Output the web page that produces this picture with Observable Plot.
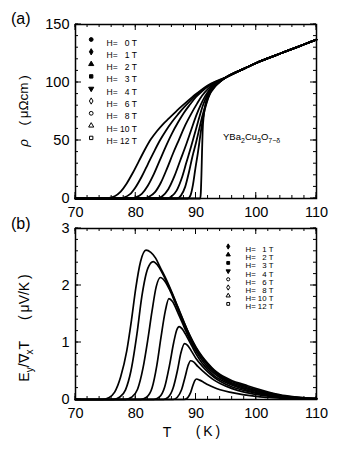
<!DOCTYPE html>
<html><head><meta charset="utf-8">
<script src="https://cdn.jsdelivr.net/npm/d3@7"></script>
<script src="https://cdn.jsdelivr.net/npm/@observablehq/plot@0.6"></script>
<style>
body{margin:0;background:#fff;}
#chart{position:relative;width:350px;height:450px;overflow:hidden;}
#chart svg{display:block;}
#overlay{position:absolute;left:0;top:0;pointer-events:none;}
</style></head><body><div id="chart"></div>
<script>
const FONT = '"Liberation Sans", Arial, Helvetica, sans-serif';

// ---- ticks ----
const xTickLabels = [70, 80, 90, 100, 110];
const xMinorTicks = d3.range(70, 110.1, 2);
const rhoTickLabels = [0, 50, 100, 150];
const rhoMinorTicks = d3.range(0, 150.1, 10);
const nernstTickLabels = [0, 1, 2, 3];
const nernstMinorTicks = d3.range(0, 3.001, 0.2);

// ---- categories (magnetic field, T) ----
const fieldsRho = [0, 1, 2, 3, 4, 6, 8, 10, 12];
const fieldsNernst = [1, 2, 3, 4, 6, 8, 10, 12];

// ---- panel (a): resistivity rho (µΩcm) vs T (K) ----
const rho0  = [[70,0],[90.7,0],[90.8,5],[90.9,20],[91.0,40],[91.1,58],[91.3,72],[91.6,82],[92,88.5],[92.5,93],[93.2,97],[94,100.6]];
const rho1  = [[70,0],[88.6,0],[89.1,3],[89.5,12],[89.9,26],[90.3,39],[90.6,50],[90.9,61],[91.3,73],[91.8,83],[92.3,90],[92.8,94],[93.4,98],[94,100.8]];
const rho2  = [[70,0],[86.8,0],[87.5,2.5],[88.2,10],[88.8,22],[89.4,36],[90,48],[90.5,59],[91,70],[91.5,79],[92,87],[92.5,92.5],[93.2,97.5],[94,101]];
const rho3  = [[70,0],[85.2,0],[86,2],[86.8,7],[87.6,17],[88.4,31],[89.2,45],[89.9,58],[90.6,71],[91.2,81],[91.8,88.5],[92.4,93.5],[93,97.5],[94,101.2]];
const rho4  = [[70,0],[83.4,0],[84.4,2],[85.4,8],[86.4,19],[87.4,33],[88.4,47],[89.2,59],[90,71],[90.8,81],[91.5,88],[92.2,93.5],[93,98.5],[94,101.4]];
const rho6  = [[70,0],[81.2,0],[82.2,1.5],[83.2,5.5],[84.2,14],[85.2,26],[86.2,39],[87.2,51],[88.2,63],[89.2,73],[90.2,82],[91,88.5],[92,94.5],[93,99],[94,101.6]];
const rho8  = [[70,0],[79,0],[80,1],[81,4],[82,11],[83,21],[84,33],[85,45],[86,56],[87,65.5],[88,74],[89,81],[90,87.5],[91,92.5],[92,96.5],[93,99.5],[94,101.8]];
const rho10 = [[70,0],[77,0],[78,0.8],[79,3.5],[80,10],[81,19],[82,29.5],[83,40],[84,50],[85,58.5],[86,66],[87,72.5],[88,78.5],[89,84],[90,89],[91,93.5],[92,97],[93,100],[94,102]];
const rho12 = [[70,0],[74.5,0],[75.5,0.5],[76.5,2],[77.5,6],[78.5,13],[79.5,22],[80.5,32],[81.5,42],[82.5,51],[83.5,58],[84.5,64],[85.5,69],[86.5,74],[87.5,79],[88.5,83.5],[89.5,88],[90.5,92],[91.5,96],[92.5,99],[94,102.5]];
const rhoNormal = [[95,104.5],[96,107.2],[98,112],[100,116.8],[102,121],[104,125],[106,129],[108,133],[110,137]];

// ---- panel (b): Nernst signal Ey/∇xT (µV/K) vs T (K) ----
const nernst1  = [[70,0],[88,0],[88.6,0.03],[89.1,0.12],[89.5,0.25],[89.8,0.33],[90.1,0.36],[90.6,0.34],[91.3,0.3],[92,0.26],[93,0.21],[94,0.17],[96,0.12],[98,0.08],[100,0.055],[102,0.035],[104,0.025],[106,0.015],[108,0.01],[110,0.005]];
const nernst2  = [[70,0],[86.2,0],[86.9,0.04],[87.6,0.17],[88.2,0.4],[88.7,0.6],[89.1,0.68],[89.6,0.66],[90.3,0.58],[91,0.51],[92,0.42],[93,0.34],[94,0.28],[96,0.19],[98,0.13],[100,0.09],[102,0.06],[104,0.04],[106,0.025],[108,0.015],[110,0.01]];
const nernst3  = [[70,0],[84.6,0],[85.4,0.04],[86.2,0.2],[86.9,0.5],[87.5,0.82],[88.1,0.98],[88.6,0.95],[89.3,0.84],[90,0.72],[91,0.59],[92,0.48],[93,0.39],[94,0.32],[96,0.22],[98,0.16],[100,0.11],[102,0.07],[104,0.045],[106,0.03],[108,0.018],[110,0.01]];
const nernst4  = [[70,0],[83,0],[83.9,0.04],[84.8,0.22],[85.6,0.6],[86.3,1.0],[86.8,1.22],[87.2,1.28],[87.7,1.24],[88.5,1.1],[89.3,0.94],[90,0.8],[91,0.64],[92,0.52],[93,0.42],[94,0.35],[96,0.25],[98,0.18],[100,0.12],[102,0.08],[104,0.05],[106,0.03],[108,0.02],[110,0.01]];
const nernst6  = [[70,0],[80.8,0],[81.8,0.04],[82.7,0.2],[83.5,0.6],[84.2,1.1],[84.9,1.55],[85.5,1.77],[86.1,1.72],[87,1.52],[88,1.28],[89,1.04],[90,0.85],[91,0.69],[92,0.56],[93,0.46],[94,0.38],[96,0.27],[98,0.2],[100,0.14],[102,0.09],[104,0.058],[106,0.035],[108,0.022],[110,0.014]];
const nernst8  = [[70,0],[78.3,0],[79.3,0.04],[80.3,0.18],[81.2,0.55],[82,1.05],[82.7,1.55],[83.4,1.98],[84.1,2.14],[84.8,2.08],[85.6,1.93],[86.5,1.71],[87.5,1.45],[88.5,1.2],[89.5,0.98],[90.5,0.8],[91.5,0.66],[92.5,0.54],[94,0.4],[96,0.29],[98,0.22],[100,0.155],[102,0.1],[104,0.065],[106,0.04],[108,0.025],[110,0.015]];
const nernst10 = [[70,0],[76.3,0],[77.3,0.04],[78.3,0.17],[79.2,0.5],[80.2,1.15],[81,1.8],[82,2.3],[82.9,2.42],[83.6,2.36],[84.5,2.2],[85.5,1.98],[86.5,1.74],[87.5,1.48],[88.5,1.23],[89.5,1.0],[90.5,0.82],[91.5,0.68],[92.5,0.56],[94,0.42],[96,0.31],[98,0.24],[100,0.17],[102,0.115],[104,0.07],[106,0.045],[108,0.028],[110,0.018]];
const nernst12 = [[70,0],[74.5,0],[75.5,0.03],[76.5,0.13],[77.5,0.4],[78.5,0.85],[79.3,1.4],[80,1.95],[80.8,2.42],[81.7,2.62],[82.5,2.58],[83.3,2.48],[84,2.33],[85,2.12],[86,1.88],[87,1.62],[88,1.36],[89,1.12],[90,0.92],[91,0.76],[92,0.63],[93,0.52],[94,0.44],[95,0.38],[96,0.33],[98,0.26],[100,0.19],[102,0.13],[104,0.08],[106,0.05],[108,0.03],[110,0.02]];

// ---- build tables ----
const rhoByField = {0:rho0,1:rho1,2:rho2,3:rho3,4:rho4,6:rho6,8:rho8,10:rho10,12:rho12};
const nernstByField = {1:nernst1,2:nernst2,3:nernst3,4:nernst4,6:nernst6,8:nernst8,10:nernst10,12:nernst12};
const rhoRows = fieldsRho.flatMap(H => [...rhoByField[H], ...rhoNormal].map(([T, v]) => ({H, T, v})));
const nernstRows = fieldsNernst.flatMap(H => nernstByField[H].map(([T, v]) => ({H, T, v})));

// legend marker styles: [symbol, filled, rotate]
const styleA = {0:["circle",1,0],1:["diamond",1,0],2:["triangle",1,0],3:["square",1,0],4:["triangle",1,180],6:["diamond",0,0],8:["circle",0,0],10:["triangle",0,0],12:["square",0,0]};
const styleB = {1:["diamond",1,0],2:["triangle",1,0],3:["square",1,0],4:["triangle",1,180],6:["circle",0,0],8:["diamond",0,0],10:["triangle",0,0],12:["square",0,0]};

function tickLabels(yMajor) {
  return [
    Plot.axisX({anchor: "bottom", ticks: xTickLabels, tickSize: 0, tickPadding: 8, label: null, fontSize: 14.5, fill: "black", tickFormat: d => String(d)}),
    Plot.axisY({anchor: "left", ticks: yMajor, tickSize: 0, tickPadding: 6, label: null, fontSize: 14.5, fill: "black", tickFormat: d => String(d)})
  ];
}

function legendMarks(fields, styles, o) {
  return fields.flatMap((H, i) => {
    const [symbol, filled, rotate] = styles[H];
    const dy = o.dy + i * o.step;
    return [
      Plot.dot([H], {frameAnchor: "top-left", dx: o.dx, dy, symbol, r: o.r, rotate,
        fill: filled ? "black" : "white", stroke: "black", strokeWidth: 1}),
      Plot.text([H], {frameAnchor: "top-left", dx: o.textDx, dy,
        text: d => "H=\u00a0" + (d < 10 ? "\u2007" : "") + d + "\u00a0T",
        textAnchor: "start", fontSize: o.fontSize, fill: "black"})
    ];
  });
}

const common = {width: 350, marginLeft: 75, marginRight: 34, x: {domain: [70, 110]},
  style: {fontFamily: FONT, color: "black", background: "white", overflow: "visible"}};

const topPlot = Plot.plot({
  ...common, height: 220, marginTop: 24, marginBottom: 22,
  y: {domain: [0, 150]},
  marks: [
    Plot.line(rhoRows, {x: "T", y: "v", z: "H", stroke: "black", strokeWidth: 1.8, curve: "monotone-x"}),
    Plot.frame({stroke: "black", strokeWidth: 1.5}),
    ...tickLabels(rhoTickLabels),
    ...legendMarks(fieldsRho, styleA, {dx: 15.7, dy: 15, step: 12.3, textDx: 31, fontSize: 8.5, r: 1.9})
  ]
});

const bottomPlot = Plot.plot({
  ...common, height: 230, marginTop: 8, marginBottom: 51,
  y: {domain: [0, 3]},
  marks: [
    Plot.line(nernstRows, {x: "T", y: "v", z: "H", stroke: "black", strokeWidth: 1.7, curve: "monotone-x"}),
    Plot.frame({stroke: "black", strokeWidth: 1.5}),
    ...tickLabels(nernstTickLabels),
    ...legendMarks(fieldsNernst, styleB, {dx: 152.7, dy: 18, step: 8.2, textDx: 170, fontSize: 7.8, r: 1.6})
  ]
});

const chart = document.getElementById("chart");
chart.append(topPlot, bottomPlot);

// ---- overlay: inward frame ticks (from Plot's scales) and annotation texts ----
const ov = d3.select(chart).append("svg").attr("id", "overlay")
  .attr("width", 350).attr("height", 450)
  .style("font-family", FONT).attr("fill", "black");

function drawTicks(plot, yOff, yMajor, yMinor) {
  const sx = plot.scale("x"), sy = plot.scale("y");
  const [xl, xr] = sx.range, [yb, yt] = sy.range;
  const g = ov.append("g").attr("transform", `translate(0,${yOff})`)
    .attr("stroke", "black").attr("stroke-width", 1);
  const seg = (x1, y1, x2, y2) => g.append("line").attr("x1", x1).attr("y1", y1).attr("x2", x2).attr("y2", y2);
  const M = 6, m = 3;
  xMinorTicks.forEach(v => { const x = sx.apply(v); seg(x, yb, x, yb - m); seg(x, yt, x, yt + m); });
  xTickLabels.forEach(v => { const x = sx.apply(v); seg(x, yb, x, yb - M); seg(x, yt, x, yt + M); });
  yMinor.forEach(v => { const y = sy.apply(v); seg(xl, y, xl + m, y); seg(xr, y, xr - m, y); });
  yMajor.forEach(v => { const y = sy.apply(v); seg(xl, y, xl + M, y); seg(xr, y, xr - M, y); });
}
drawTicks(topPlot, 0, rhoTickLabels, rhoMinorTicks);
drawTicks(bottomPlot, 220, nernstTickLabels, nernstMinorTicks);

ov.append("text").attr("x", 11).attr("y", 24).attr("font-size", 16).text("(a)");
ov.append("text").attr("x", 11).attr("y", 229).attr("font-size", 16).text("(b)");

const yl1 = ov.append("text").attr("transform", "translate(28,111) rotate(-90)")
  .attr("text-anchor", "middle").attr("font-size", 13.5);
yl1.append("tspan").attr("font-style", "italic").text("ρ");
yl1.append("tspan").text("\u2003(\u2009μΩcm\u2009)");

const yl2 = ov.append("text").attr("transform", "translate(29,328) rotate(-90)")
  .attr("text-anchor", "middle").attr("font-size", 14);
yl2.append("tspan").text("E");
yl2.append("tspan").attr("font-size", 10).attr("dy", 4).text("y");
yl2.append("tspan").attr("dy", -4).text("/∇");
yl2.append("tspan").attr("font-size", 10).attr("dy", 4).text("x");
yl2.append("tspan").attr("dy", -4).text("T\u2003\u2002(\u2009μV/K\u2009)");

ov.append("text").attr("x", 167).attr("y", 437).attr("text-anchor", "middle").attr("font-size", 14).text("T");
ov.append("text").attr("x", 208).attr("y", 436).attr("text-anchor", "middle").attr("font-size", 14).text("(\u2009K\u2009)");

const f = ov.append("text").attr("x", 223).attr("y", 140).attr("font-size", 9.5);
f.append("tspan").text("YBa");
f.append("tspan").attr("font-size", 7).attr("dy", 2.5).text("2");
f.append("tspan").attr("dy", -2.5).text("Cu");
f.append("tspan").attr("font-size", 7).attr("dy", 2.5).text("3");
f.append("tspan").attr("dy", -2.5).text("O");
f.append("tspan").attr("font-size", 7).attr("dy", 2.5).text("7−δ");
</script></body></html>
